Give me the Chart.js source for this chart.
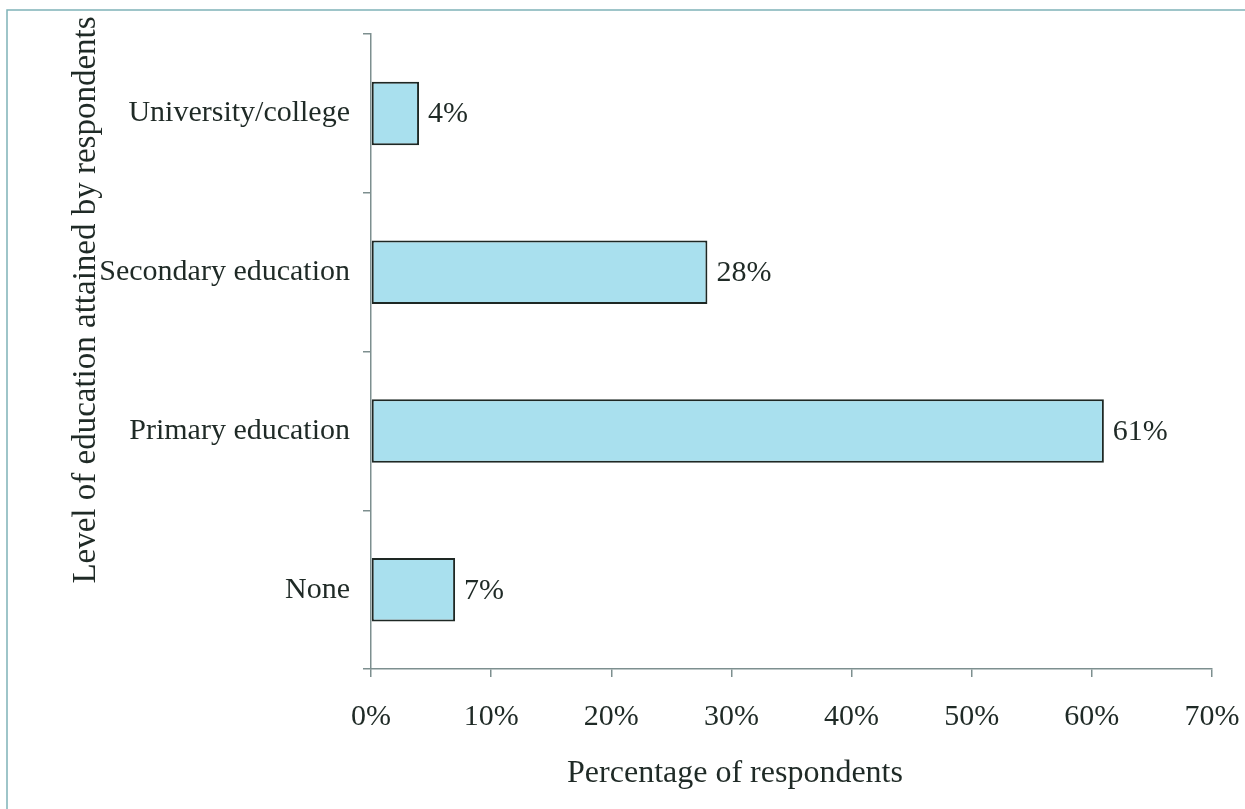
<!DOCTYPE html>
<html>
<head>
<meta charset="utf-8">
<script src="https://cdn.jsdelivr.net/npm/chart.js@4"></script>
<style>
  html, body { margin: 0; padding: 0; background: #fff; }
  #wrap { width: 1245px; height: 809px; position: relative; }
</style>
</head>
<body>
<div id="wrap"><canvas id="myChart" width="1245" height="809"></canvas></div>
<script>
const categories = ["University/college", "Secondary education", "Primary education", "None"];
const percentValues = [4, 28, 61, 7];
const xTickLabels = ["0%", "10%", "20%", "30%", "40%", "50%", "60%", "70%"];
const xTitle = "Percentage of respondents";
const yTitle = "Level of education attained by respondents";

const FONT = "'Liberation Serif', 'Times New Roman', serif";
const TEXT = '#1f2a26';

// frame, axis titles and value labels
const extras = {
  id: 'extras',
  beforeDraw(chart) {
    const c = chart.ctx;
    c.save();
    c.strokeStyle = '#7fb3b8';
    c.lineWidth = 1.5;
    c.strokeRect(7, 10, 1260, 820);
    c.restore();
  },
  afterDraw(chart) {
    const c = chart.ctx;
    c.save();
    c.fillStyle = TEXT;
    c.font = '30px ' + FONT;
    // value labels
    const meta = chart.getDatasetMeta(0);
    c.textAlign = 'left';
    c.textBaseline = 'middle';
    meta.data.forEach((bar, i) => {
      c.fillText(percentValues[i] + '%', bar.x + 9, bar.y + 1);
    });
    // x title
    c.font = '32px ' + FONT;
    c.textAlign = 'center';
    c.fillText(xTitle, 735, 774);
    // y title
    c.font = '33px ' + FONT;
    c.translate(86, 300);
    c.rotate(-Math.PI / 2);
    c.fillText(yTitle, 0, 0);
    c.restore();
  }
};

const config = {
  type: 'bar',
  data: {
    labels: categories,
    datasets: [{
      data: percentValues,
      backgroundColor: '#a9e0ee',
      borderColor: '#1e2824',
      borderWidth: 2,
      borderSkipped: false,
      barPercentage: 0.4,
      categoryPercentage: 1.0
    }]
  },
  options: {
    indexAxis: 'y',
    responsive: false,
    animation: false,
    layout: { padding: { top: 34, right: 33, left: 0, bottom: 0 } },
    plugins: {
      legend: { display: false },
      tooltip: { enabled: false }
    },
    scales: {
      x: {
        min: 0,
        max: 70,
        border: { color: '#7d8f8f', width: 1.5 },
        grid: { drawOnChartArea: false, tickLength: 8, color: '#7d8f8f', lineWidth: 1.5 },
        ticks: {
          stepSize: 10,
          padding: 22,
          color: TEXT,
          font: { family: FONT, size: 30 },
          maxRotation: 0,
          callback: (v, i) => xTickLabels[i]
        },
        afterFit(scale) {
          scale.height = 809 - 669;
          scale.paddingRight = 0;
          scale.paddingLeft = 0;
        }
      },
      y: {
        border: { color: '#7d8f8f', width: 1.5 },
        grid: { drawOnChartArea: false, tickLength: 8, color: '#7d8f8f', lineWidth: 1.5, offset: true },
        ticks: {
          padding: 13,
          color: TEXT,
          font: { family: FONT, size: 30 }
        },
        afterFit(scale) { scale.width = 371; }
      }
    }
  },
  plugins: [extras]
};

const myChart = new Chart(document.getElementById('myChart'), config);
</script>
</body>
</html>
